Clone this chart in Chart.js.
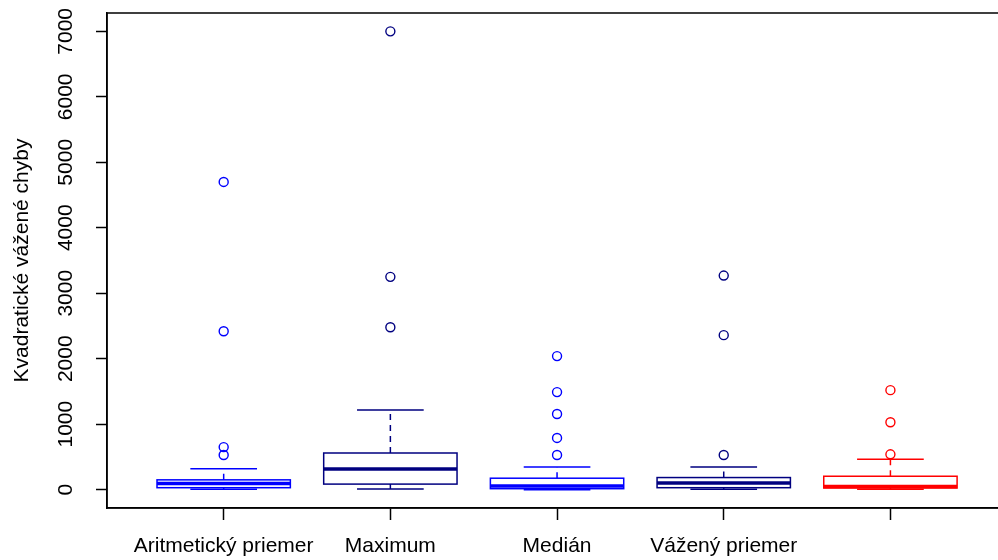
<!DOCTYPE html>
<html>
<head>
<meta charset="utf-8">
<script src="https://cdn.jsdelivr.net/npm/chart.js@4"></script>
<style>
  html, body { margin: 0; padding: 0; background: #fff; overflow: hidden; }
  #wrap { width: 998px; height: 560px; overflow: hidden; }
</style>
</head>
<body>
<div id="wrap"><canvas id="box_chart" width="1013" height="560"></canvas></div>
<script>
// kategórie (posledná je bez popisu)
const names = ["Aritmetický priemer", "Maximum", "Medián", "Vážený priemer", ""];
const colors = ["#0000ff", "#000080", "#0000ff", "#000080", "#ff0000"];

// päť čísel boxplotu pre každú metódu
const lower  = [5, 10, 0, 5, 5];
const q1     = [30, 85, 15, 30, 25];
const median = [95, 315, 55, 100, 50];
const q3     = [150, 560, 175, 185, 205];
const upper  = [320, 1215, 345, 345, 465];

// odľahlé hodnoty
const outliers = [
    [530, 650, 2420, 4700],
    [2480, 3250, 7000],
    [530, 790, 1155, 1490, 2040],
    [530, 2360, 3270],
    [540, 1030, 1520]
];

const yTicks = [0, 1000, 2000, 3000, 4000, 5000, 6000, 7000];
const font = { family: "'Liberation Sans', Arial, sans-serif", size: 21 };

// krabice, fúzy a mediány kreslíme cez škály grafu
const boxPlugin = {
    id: "boxes",
    beforeDatasetsDraw(chart) {
        let ctx = chart.ctx;
        let xs = chart.scales.x;
        let ys = chart.scales.y;
        ctx.save();
        for (let i = 0; i < names.length; i++) {
            let cx = xs.getPixelForValue(i + 1);
            let left = xs.getPixelForValue(i + 1 - 0.4);
            let right = xs.getPixelForValue(i + 1 + 0.4);
            let capL = xs.getPixelForValue(i + 1 - 0.2);
            let capR = xs.getPixelForValue(i + 1 + 0.2);
            let pLo = ys.getPixelForValue(lower[i]);
            let pQ1 = ys.getPixelForValue(q1[i]);
            let pMed = ys.getPixelForValue(median[i]);
            let pQ3 = ys.getPixelForValue(q3[i]);
            let pHi = ys.getPixelForValue(upper[i]);

            ctx.strokeStyle = colors[i];
            ctx.lineWidth = 1.5;

            // fúzy
            ctx.setLineDash([6, 5]);
            ctx.beginPath();
            ctx.moveTo(cx, pQ3); ctx.lineTo(cx, pHi);
            ctx.moveTo(cx, pQ1); ctx.lineTo(cx, pLo);
            ctx.stroke();
            ctx.setLineDash([]);

            // zarážky
            ctx.beginPath();
            ctx.moveTo(capL, pHi); ctx.lineTo(capR, pHi);
            ctx.moveTo(capL, pLo); ctx.lineTo(capR, pLo);
            ctx.stroke();

            // krabica
            ctx.strokeRect(left, pQ3, right - left, pQ1 - pQ3);

            // medián
            ctx.lineWidth = 3.5;
            ctx.beginPath();
            ctx.moveTo(left, pMed); ctx.lineTo(right, pMed);
            ctx.stroke();
        }
        ctx.restore();
    },
    afterDraw(chart) {
        let a = chart.chartArea;
        let ctx = chart.ctx;
        ctx.save();
        ctx.strokeStyle = "#000";
        ctx.lineWidth = 1.5;
        ctx.strokeRect(a.left, a.top, a.right - a.left, a.bottom - a.top);
        ctx.restore();
    }
};

let datasets = [];
for (let i = 0; i < outliers.length; i++) {
    datasets.push({
        type: "scatter",
        data: outliers[i].map(v => ({ x: i + 1, y: v })),
        pointStyle: "circle",
        pointRadius: 4.5,
        pointBorderWidth: 1.4,
        pointBackgroundColor: "rgba(0,0,0,0)",
        pointBorderColor: colors[i]
    });
}

let boxChart = new Chart(document.getElementById("box_chart"), {
    type: "scatter",
    data: { datasets: datasets },
    plugins: [boxPlugin],
    options: {
        responsive: false,
        animation: false,
        layout: { padding: { top: 13, right: 3, left: 0, bottom: 0 } },
        plugins: { legend: { display: false }, tooltip: { enabled: false } },
        scales: {
            x: {
                type: "linear",
                min: 0.3,
                max: 5.7,
                afterBuildTicks: s => { s.ticks = names.map((n, i) => ({ value: i + 1 })); },
                afterFit: s => { s.height = 52; s.paddingLeft = 0; s.paddingRight = 0; },
                grid: { drawOnChartArea: false, drawTicks: true, tickLength: 12, tickColor: "#000", tickWidth: 1.5 },
                border: { display: true, color: "#000", width: 1.5 },
                ticks: {
                    autoSkip: false,
                    minRotation: 0,
                    maxRotation: 0,
                    padding: 14,
                    color: "#000",
                    font: font,
                    callback: v => names[v - 1]
                }
            },
            y: {
                type: "linear",
                min: -280,
                max: 7280,
                afterBuildTicks: s => { s.ticks = yTicks.map(v => ({ value: v })); },
                afterFit: s => { s.width = 107; s.paddingTop = 0; s.paddingBottom = 0; },
                grid: { drawOnChartArea: false, drawTicks: true, tickLength: 11, tickColor: "#000", tickWidth: 1.5 },
                border: { display: true, color: "#000", width: 1.5 },
                title: {
                    display: true,
                    text: "Kvadratické vážené chyby",
                    color: "#000",
                    font: font,
                    padding: { top: 10, bottom: 4 }
                },
                ticks: {
                    minRotation: 90,
                    maxRotation: 90,
                    crossAlign: "center",
                    padding: 6,
                    color: "#000",
                    font: font,
                    callback: v => String(v)
                }
            }
        }
    }
});
</script>
</body>
</html>
